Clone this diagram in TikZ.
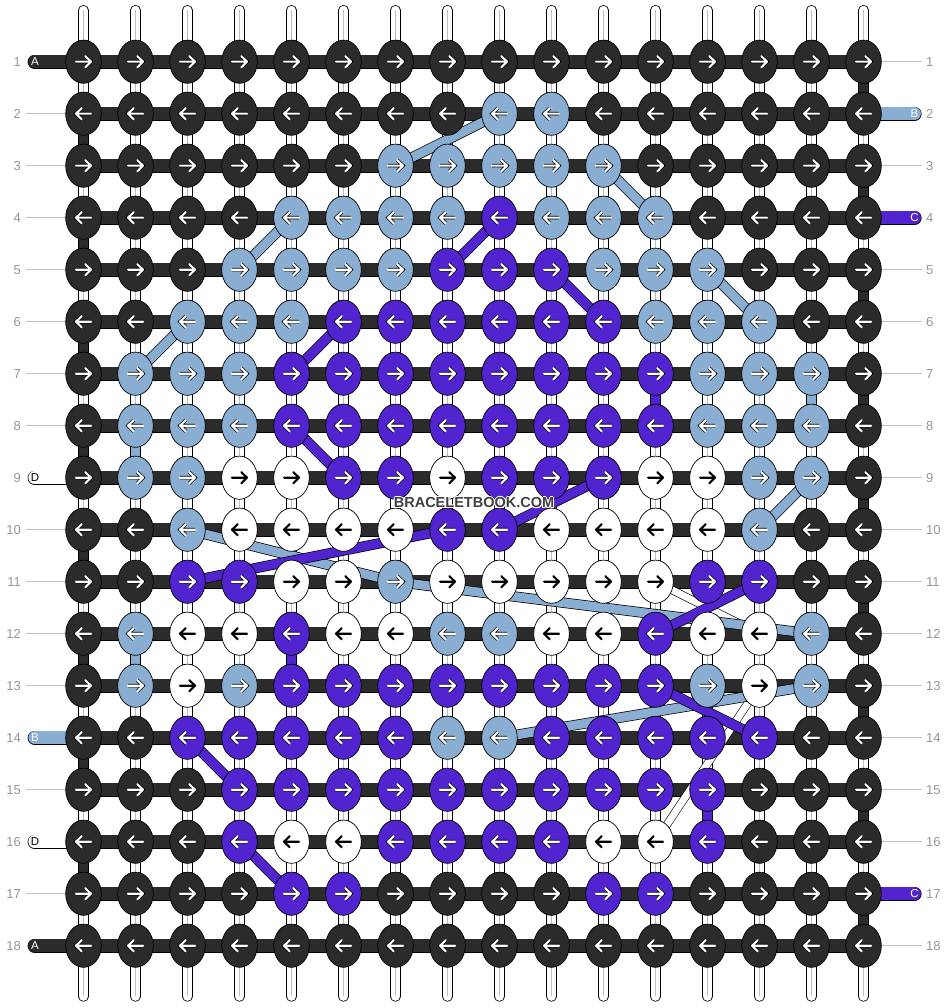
\documentclass[tikz,border=0pt]{standalone}
\usepackage{fontspec}
\setmainfont{Liberation Sans}
\usetikzlibrary{shapes.geometric}
\definecolor{cK}{RGB}{43,43,43}
\definecolor{cL}{RGB}{138,174,210}
\definecolor{cP}{RGB}{82,36,207}
\definecolor{cW}{RGB}{255,255,255}
\definecolor{numgray}{RGB}{150,150,150}
\definecolor{linegray}{RGB}{190,190,190}
\pgfdeclarelayer{bg}\pgfdeclarelayer{mid}\pgfsetlayers{bg,mid,main}
\begin{document}
\begin{tikzpicture}[x=1pt,y=-1pt,
  knot/.style={ellipse, draw=black, line width=0.7pt, minimum width=35.6pt, minimum height=43.2pt, inner sep=0pt},
  arrK/.style={draw=white, line width=2.1pt, line cap=round, line join=round, preaction={draw=black, line width=3.5pt}},
  arrL/.style={arrK}, arrP/.style={arrK},
  arrW/.style={draw=black, line width=2.1pt, line cap=round, line join=round},
  rowband/.style={draw=cK, line width=12.6pt, preaction={draw=black, line width=14pt}},
  tabband/.style={draw=#1, line width=12.6pt, line cap=round, preaction={draw=black, line width=14pt, line cap=round}},
  band/.style={draw=#1, line width=9pt, preaction={draw=black, line width=10.4pt}},
  wire/.style={draw=#1, line width=9pt, preaction={draw=black, line width=10.6pt}},
  thinwhite/.style={draw=white, line width=7pt, preaction={draw=black, line width=8.2pt}},
  num/.style={text=numgray, font=\fontsize{13}{13}\selectfont, inner sep=0pt},
  tablab/.style={font=\fontsize{11.5}{11.5}\selectfont, inner sep=0pt},
  wm/.style={font=\bfseries\fontsize{14.5}{14.5}\selectfont, inner sep=0pt}
]
\useasboundingbox (0,0) rectangle (948,1008);

% warp strands
\begin{pgfonlayer}{bg}
\foreach \i in {0,...,15}{
  \pgfmathsetmacro\xx{83.5+52*\i}
  \coordinate (top-\i) at (\xx,10.3);
  \coordinate (bot-\i) at (\xx,996.4);
  \draw[line width=10.6pt, black, line cap=round] (top-\i)--(bot-\i);
  \draw[line width=9pt, white, line cap=round] (top-\i)--(bot-\i);
  \draw[line width=0.7pt, linegray] (top-\i)--(bot-\i);
}
\end{pgfonlayer}

% knots
\foreach \r/\cols in {
 1/{K,K,K,K,K,K,K,K,K,K,K,K,K,K,K,K},
 2/{K,K,K,K,K,K,K,K,L,L,K,K,K,K,K,K},
 3/{K,K,K,K,K,K,L,L,L,L,L,K,K,K,K,K},
 4/{K,K,K,K,L,L,L,L,P,L,L,L,K,K,K,K},
 5/{K,K,K,L,L,L,L,P,P,P,L,L,L,K,K,K},
 6/{K,K,L,L,L,P,P,P,P,P,P,L,L,L,K,K},
 7/{K,L,L,L,P,P,P,P,P,P,P,P,L,L,L,K},
 8/{K,L,L,L,P,P,P,P,P,P,P,P,L,L,L,K},
 9/{K,L,L,W,W,P,P,W,P,P,P,W,W,L,L,K},
 10/{K,K,L,W,W,W,W,P,P,W,W,W,W,L,K,K},
 11/{K,K,P,P,W,W,L,W,W,W,W,W,P,P,K,K},
 12/{K,L,W,W,P,W,W,L,L,W,W,P,W,W,L,K},
 13/{K,L,W,L,P,P,P,P,P,P,P,P,L,W,L,K},
 14/{K,K,P,P,P,P,P,L,L,P,P,P,P,P,K,K},
 15/{K,K,K,P,P,P,P,P,P,P,P,P,P,K,K,K},
 16/{K,K,K,P,W,W,P,P,P,P,W,W,P,K,K,K},
 17/{K,K,K,K,P,P,K,K,K,K,P,P,K,K,K,K},
 18/{K,K,K,K,K,K,K,K,K,K,K,K,K,K,K,K}}{
  \pgfmathsetmacro\yy{61.7+52*(\r-1)}
  \pgfmathsetmacro\dir{ifthenelse(mod(\r,2)==1,1,-1)}
  \foreach \cc [count=\ci from 0] in \cols {
    \node[knot, fill=c\cc] (k-\r-\ci) at ({83.5+52*\ci},\yy) {};
    \begin{scope}[shift={(k-\r-\ci.center)}, xscale=\dir]
      \draw[arr\cc] (-7.5,0)--(7.5,0) (1.8,-5.6)--(7.5,0)--(1.8,5.6);
    \end{scope}
  }
}

% row bands, tabs
\begin{pgfonlayer}{bg}
\foreach \r in {1,...,18}{
  \draw[rowband] (k-\r-0.center) -- (k-\r-15.center);
}
\foreach \r/\c in {1/cK, 9/cW, 14/cL, 16/cW, 18/cK}{
  \pgfmathsetmacro\yy{61.7+52*(\r-1)}
  \coordinate (tabL-\r) at (34.6,\yy);
  \draw[tabband=\c] (tabL-\r) -- (k-\r-0.center);
}
\foreach \r/\c in {2/cL, 4/cP, 17/cP}{
  \pgfmathsetmacro\yy{61.7+52*(\r-1)}
  \coordinate (tabR-\r) at (914.6,\yy);
  \draw[tabband=\c] (k-\r-15.center) -- (tabR-\r);
}
\end{pgfonlayer}

% edge turns, vertical colour runs, diagonal bands
\begin{pgfonlayer}{mid}
\foreach \r [evaluate=\r as \rn using int(\r+1)] in {2,4,...,16}{
  \draw[wire=cK] (k-\r-0.center) -- (k-\rn-0.center);
}
\foreach \r [evaluate=\r as \rn using int(\r+1)] in {1,3,...,17}{
  \draw[wire=cK] (k-\r-15.center) -- (k-\rn-15.center);
}
\foreach \ra/\ca/\rb/\cb/\c in {8/1/9/1/cL, 7/11/8/11/cP, 7/14/8/14/cL, 12/1/13/1/cL, 12/4/13/4/cP, 15/12/16/12/cP}{
  \draw[wire=\c] (k-\ra-\ca.center) -- (k-\rb-\cb.center);
}
\draw[thinwhite] (k-11-11.center) -- (k-12-13.center);
\draw[thinwhite] (k-13-13.center) -- (k-16-11.center);
\foreach \ra/\ca/\rb/\cb/\c in {
  2/8/3/6/cL, 3/10/4/11/cL, 4/4/5/3/cL, 6/2/7/1/cL, 5/12/6/13/cL, 9/14/10/13/cL,
  10/2/11/6/cL, 11/6/12/14/cL, 14/8/13/14/cL,
  4/8/5/7/cP, 5/9/6/10/cP, 6/5/7/4/cP, 8/4/9/5/cP, 9/10/10/8/cP, 10/7/11/2/cP,
  11/13/12/11/cP, 13/11/14/13/cP, 14/2/15/3/cP, 16/3/17/4/cP}{
  \draw[band=\c] (k-\ra-\ca.center) -- (k-\rb-\cb.center);
}
\end{pgfonlayer}

% tab letters
\foreach \r/\t/\tc in {1/A/white, 9/D/black, 14/B/white, 16/D/black, 18/A/white}{
  \node[tablab, text=\tc] (labL-\r) at (35,{61.7+52*(\r-1)}) {\t};
}
\foreach \r/\t in {2/B, 4/C, 17/C}{
  \node[tablab, text=white] (labR-\r) at (914.5,{61.7+52*(\r-1)}) {\t};
}

% row numbers and guide lines
\foreach \r in {1,...,18}{
  \pgfmathsetmacro\yy{61.7+52*(\r-1)}
  \node[num, anchor=east] (nL-\r) at (21,\yy) {\r};
  \node[num, anchor=west] (nR-\r) at (926,\yy) {\r};
}
\foreach \r in {2,3,4,5,6,7,8,10,11,12,13,15,17}{
  \pgfmathsetmacro\yy{61.7+52*(\r-1)}
  \coordinate (gL-\r) at (26,\yy);
  \draw[linegray, line width=1pt] (gL-\r) -- (k-\r-0.west);
}
\foreach \r in {1,3,5,6,7,8,9,10,11,12,13,14,15,16,18}{
  \pgfmathsetmacro\yy{61.7+52*(\r-1)}
  \coordinate (gR-\r) at (921.5,\yy);
  \draw[linegray, line width=1pt] (k-\r-15.east) -- (gR-\r);
}

% watermark
\foreach \dx/\dy in {-1/0,1/0,0/-1,0/1,-0.8/-0.8,0.8/0.8,-0.8/0.8,0.8/-0.8}{
  \node[wm, text=white] at (474+\dx,503+\dy) {BRACELETBOOK.COM};
}
\node[wm, text=black!75] (watermark) at (474,503) {BRACELETBOOK.COM};
\end{tikzpicture}
\end{document}
